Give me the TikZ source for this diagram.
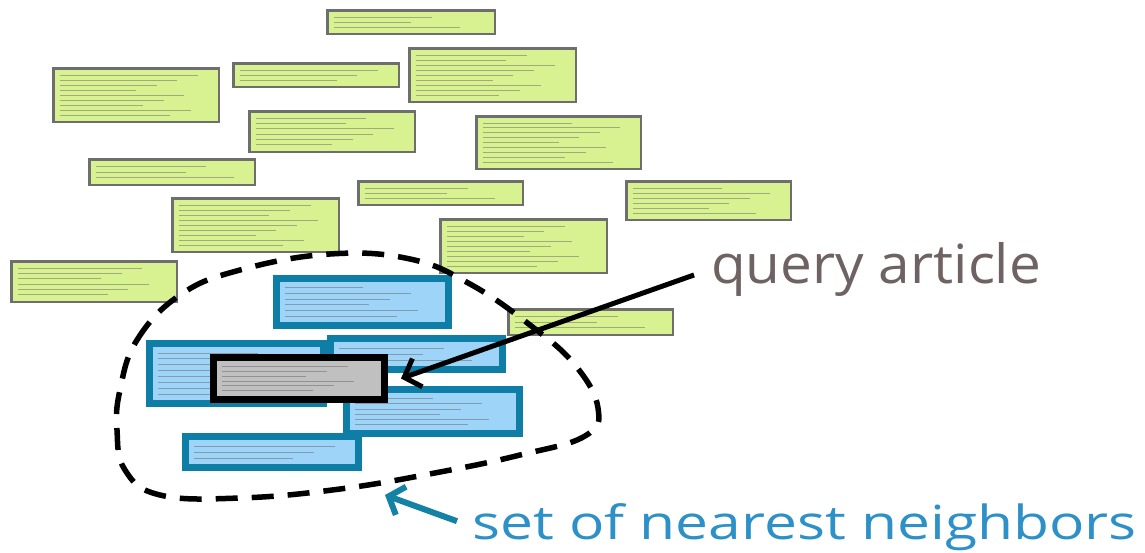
\documentclass[tikz,border=0pt]{standalone}
\usepackage{fontspec}
\usetikzlibrary{arrows.meta}
\newfontfamily\labelfont[FakeStretch=1.05]{Open Sans}
\newfontfamily\widelabelfont[FakeStretch=1.25]{Open Sans}
\definecolor{docyellow}{RGB}{217,242,145}
\definecolor{docedge}{RGB}{110,110,110}
\definecolor{nbrblue}{RGB}{158,212,248}
\definecolor{nbredge}{RGB}{14,126,166}
\definecolor{qgray}{RGB}{192,192,192}
\definecolor{qtextcol}{RGB}{110,98,98}
\definecolor{ntextcol}{RGB}{45,145,200}
\definecolor{narrowcol}{RGB}{20,130,165}
% card: style, border, name, x1, y1, x2, y2, number of text lines
\newcommand{\card}[8]{%
  \pgfmathsetmacro\cw{#6-#4}\pgfmathsetmacro\ch{#7-#5}
  \node[#1, line width=#2pt, minimum width={\cw pt-#2pt}, minimum height={\ch pt-#2pt}] (#3) at ({(#4+#6)/2},{(#5+#7)/2}) {};
  \foreach \i in {1,...,#8}{
    \pgfmathsetmacro\ly{#5+#2+3+(\i-0.5)*(\ch-2*#2-6)/#8}
    \pgfmathsetmacro\ll{(\cw-2*#2-10)*(0.5+0.45*mod(\i*7+#4,10)/10)}
    \draw[txtline] ({#4+#2+5},\ly) -- ++(\ll,0);
  }}

\begin{document}
\begin{tikzpicture}[x=1pt,y=-1pt,
    doc/.style={draw=docedge, fill=docyellow, inner sep=0pt},
    nbr/.style={draw=nbredge, fill=nbrblue, inner sep=0pt},
    qdoc/.style={draw=black, fill=qgray, inner sep=0pt},
    txtline/.style={draw=black!60, line width=0.7pt, opacity=0.5},
    nnset/.style={line width=5.5pt, dash pattern=on 22pt off 14pt},
    qtext/.style={inner sep=0pt, text=qtextcol, font=\labelfont\fontsize{54}{60}\selectfont},
    ntext/.style={inner sep=0pt, text=ntextcol, font=\widelabelfont\fontsize{47}{54}\selectfont},
    qarrow/.style={line width=5pt, -{Straight Barb[length=14pt,width=30pt]}},
    narrow/.style={line width=6pt, draw=narrowcol, -{Straight Barb[length=13pt,width=30pt]}}]
  \useasboundingbox (0,0) rectangle (1145,552);

  %%%%% other articles %%%%%
  \card{doc}{2.5}{doc1}{326}{9}{496}{35}{3}
  \card{doc}{2.5}{doc2}{52}{67}{220}{123}{9}
  \card{doc}{2.5}{doc3}{232}{62}{400}{88}{3}
  \card{doc}{2.5}{doc4}{408}{47}{577}{103}{9}
  \card{doc}{2.5}{doc5}{248}{110}{416}{153}{6}
  \card{doc}{2.5}{doc6}{475}{115}{642}{170}{9}
  \card{doc}{2.5}{doc7}{88}{158}{256}{186}{3}
  \card{doc}{2.5}{doc8}{357}{180}{524}{206}{3}
  \card{doc}{2.5}{doc9}{171}{197}{340}{253}{9}
  \card{doc}{2.5}{doc10}{625}{180}{792}{221}{6}
  \card{doc}{2.5}{doc11}{439}{218}{608}{274}{9}
  \card{doc}{2.5}{doc12}{10}{260}{178}{303}{6}
  \card{doc}{2.5}{doc13}{507}{308}{674}{336}{3}

  %%%%% neighbors %%%%%
  \card{nbr}{7}{nbrB}{146}{340}{327}{407}{8}
  \card{nbr}{7}{nbrC}{327}{335}{506}{373}{3}
  \card{nbr}{7}{nbrA}{273}{275}{452}{329}{6}
  \card{nbr}{7}{nbrD}{343}{386}{523}{437}{6}
  \card{nbr}{7}{nbrE}{182}{433}{362}{471}{3}

  %%%%% query %%%%%
  \card{qdoc}{7}{query}{210}{354}{388}{403}{6}

  \draw[nnset] plot[smooth cycle, tension=0.7] coordinates {(120,390) (137,340) (180,295) (240,270) (330,254) (410,259) (470,284) (530,325) (575,365) (598,408) (585,436) (520,455) (440,472) (340,489) (240,498) (160,495) (125,470) (117,430)};

  %%%%% labels %%%%%
  \node[qtext, anchor=base west] (qlabel) at (711,283) {query article};
  \node[ntext, anchor=base west] (nlabel) at (472,539) {set of nearest neighbors};
  \coordinate (nntip) at (385,495);

  \draw[qarrow, shorten <=18pt] (qlabel.west) -- ([xshift=13pt]query.east);
  \draw[narrow, shorten <=16pt] (nlabel.west) -- (nntip);
\end{tikzpicture}
\end{document}
